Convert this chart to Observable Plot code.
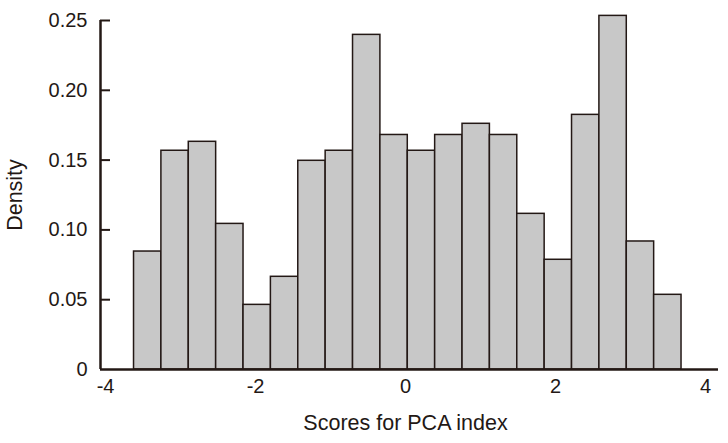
<!DOCTYPE html>
<html>
<head>
<meta charset="utf-8">
<script src="https://cdn.jsdelivr.net/npm/d3@7"></script>
<script src="https://cdn.jsdelivr.net/npm/@observablehq/plot@0.6"></script>
<style>
  html, body { margin: 0; padding: 0; background: #fff; }
</style>
</head>
<body>
<div id="chart"></div>
<script>
// Bin edges (left edges) and right edges of the 20 histogram bins
const binStart = [-3.62, -3.255, -2.89, -2.525, -2.16, -1.795, -1.43, -1.065, -0.70, -0.335,
                  0.03, 0.395, 0.76, 1.125, 1.49, 1.855, 2.22, 2.585, 2.95, 3.315];
const binEnd   = [-3.255, -2.89, -2.525, -2.16, -1.795, -1.43, -1.065, -0.70, -0.335, 0.03,
                  0.395, 0.76, 1.125, 1.49, 1.855, 2.22, 2.585, 2.95, 3.315, 3.68];
const density  = [0.0845, 0.1567, 0.1631, 0.1043, 0.0463, 0.0664, 0.1495, 0.1567, 0.2397, 0.168,
                  0.1567, 0.168, 0.176, 0.168, 0.1115, 0.0786, 0.1824, 0.2533, 0.0917, 0.0535];
const xTicks = [-4, -2, 0, 2, 4];
const yTicks = [0, 0.05, 0.10, 0.15, 0.20, 0.25];
const xDomain = [-4.067, 4.173];
const yDomain = [0, 0.25];

const bins = binStart.map((x1, i) => ({x1, x2: binEnd[i], y: density[i]}));
const ink = "#231815";

const W = 728, ML = 100, MR = 10;
// inward tick length of 10px expressed through the x scale's extent
const tickLen = (xDomain[1] - xDomain[0]) * 10 / (W - ML - MR);
const tickRows = yTicks.filter(d => d > 0).map(v => ({v, a: xDomain[0], b: xDomain[0] + tickLen}));

const chart = Plot.plot({
  width: W,
  height: 443,
  marginLeft: ML,
  marginRight: MR,
  marginTop: 20,
  marginBottom: 74,
  style: {fontFamily: "'Liberation Sans', Arial, sans-serif", fontSize: "20px", color: ink, background: "#fff"},
  x: {domain: xDomain, axis: null},
  y: {domain: yDomain, axis: null},
  marks: [
    Plot.rectY(bins, {x1: "x1", x2: "x2", y1: 0, y2: "y", fill: "#c8c8c8", stroke: ink, strokeWidth: 1.5, inset: 0}),
    Plot.axisX({ticks: xTicks, tickSize: 0, tickPadding: 9, tickFormat: d => String(d), label: null, fontSize: 20}),
    Plot.text(["Scores for PCA index"], {frameAnchor: "bottom", dy: 60, dx: -4, fontSize: 21.5, fill: ink}),
    // inward tick marks on the y axis
    Plot.ruleY(tickRows, {y: "v", x1: "a", x2: "b", stroke: ink, strokeWidth: 2}),
    Plot.axisY({ticks: yTicks, tickSize: 0, tickPadding: 13, fontSize: 20, fill: ink,
      tickFormat: d => d === 0 ? "0" : d.toFixed(2), label: null}),
    Plot.text(["Density"], {frameAnchor: "left", textAnchor: "middle", dx: -85, rotate: -90, fontSize: 21.5, fill: ink}),
    Plot.ruleX([xDomain[0]], {stroke: ink, strokeWidth: 2.5}),
    Plot.ruleY([0], {stroke: ink, strokeWidth: 2.5})
  ]
});
document.getElementById("chart").appendChild(chart);
</script>
</body>
</html>
